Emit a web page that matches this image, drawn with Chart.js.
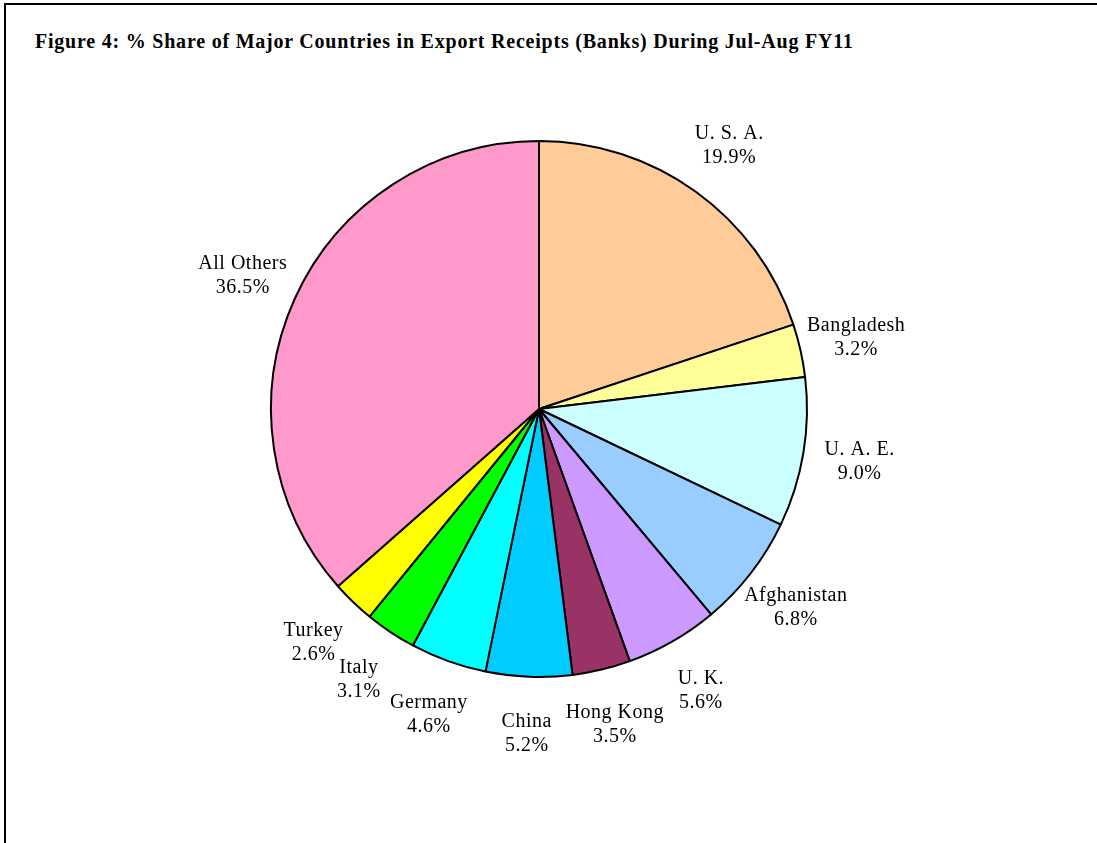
<!DOCTYPE html>
<html>
<head>
<meta charset="utf-8">
<script src="https://cdn.jsdelivr.net/npm/chart.js@4"></script>
<style>
    html, body { margin: 0; padding: 0; background: #fff; }
    #wrap { position: relative; width: 1097px; height: 843px; overflow: hidden; }
    #frame {
        position: absolute; left: 4px; top: 3px; right: -10px; bottom: -10px;
        border-left: 2px solid #000; border-top: 2px solid #000;
    }
    #title {
        position: absolute; left: 35px; top: 29px; line-height: 24px;
        font-family: 'Liberation Serif', 'Times New Roman', serif;
        font-weight: bold; font-size: 20px; letter-spacing: 0.78px;
        color: #000; white-space: nowrap;
    }
    canvas { position: absolute; left: 0; top: 0; }
</style>
</head>
<body>
<div id="wrap">
    <div id="frame"></div>
    <div id="title">Figure 4: % Share of Major Countries in Export Receipts (Banks) During Jul-Aug FY11</div>
    <canvas id="chart" width="1097" height="843"></canvas>
</div>
<script>
/* ===== Data ===== */

var countries = ['U. S. A.', 'Bangladesh', 'U. A. E.', 'Afghanistan', 'U. K.', 'Hong Kong',
    'China', 'Germany', 'Italy', 'Turkey', 'All Others'];
var shares = [19.9, 3.2, 9.0, 6.8, 5.6, 3.5, 5.2, 4.6, 3.1, 2.6, 36.5];
var sliceColors = ['#FFCC99', '#FFFF99', '#CCFFFF', '#99CCFF', '#CC99FF', '#993366',
    '#00CCFF', '#00FFFF', '#00FF00', '#FFFF00', '#FF99CC'];

/* ===== Outside labels ===== */

var outsideLabels = {
    id: 'outsideLabels',
    afterDatasetsDraw: function(chart) {
        var ctx = chart.ctx;
        var meta = chart.getDatasetMeta(0);
        ctx.save();
        ctx.font = '20px "Liberation Serif", "Times New Roman", serif';
        if ('letterSpacing' in ctx) ctx.letterSpacing = '0.5px';
        ctx.fillStyle = '#000';
        ctx.textAlign = 'center';
        ctx.textBaseline = 'middle';
        meta.data.forEach(function(arc, i) {
            var mid = (arc.startAngle + arc.endAngle) / 2;
            var r = arc.outerRadius + 57;
            var x = arc.x + Math.cos(mid) * r;
            var y = arc.y + Math.sin(mid) * r;
            ctx.fillText(countries[i], x, y - 12);
            ctx.fillText(shares[i].toFixed(1) + '%', x, y + 12);
        });
        ctx.restore();
    }
};

new Chart(document.getElementById('chart'), {
    type: 'pie',
    data: {
        labels: countries,
        datasets: [{
            data: shares,
            backgroundColor: sliceColors,
            borderColor: '#000',
            borderWidth: 2,
            borderAlign: 'center',
        }],
    },
    options: {
        responsive: false,
        animation: false,
        events: [],
        layout: { padding: { left: 270, right: 289, top: 140, bottom: 165 } },
        plugins: {
            legend: { display: false },
            tooltip: { enabled: false },
            title: { display: false },
        },
    },
    plugins: [outsideLabels],
});
</script>
</body>
</html>
